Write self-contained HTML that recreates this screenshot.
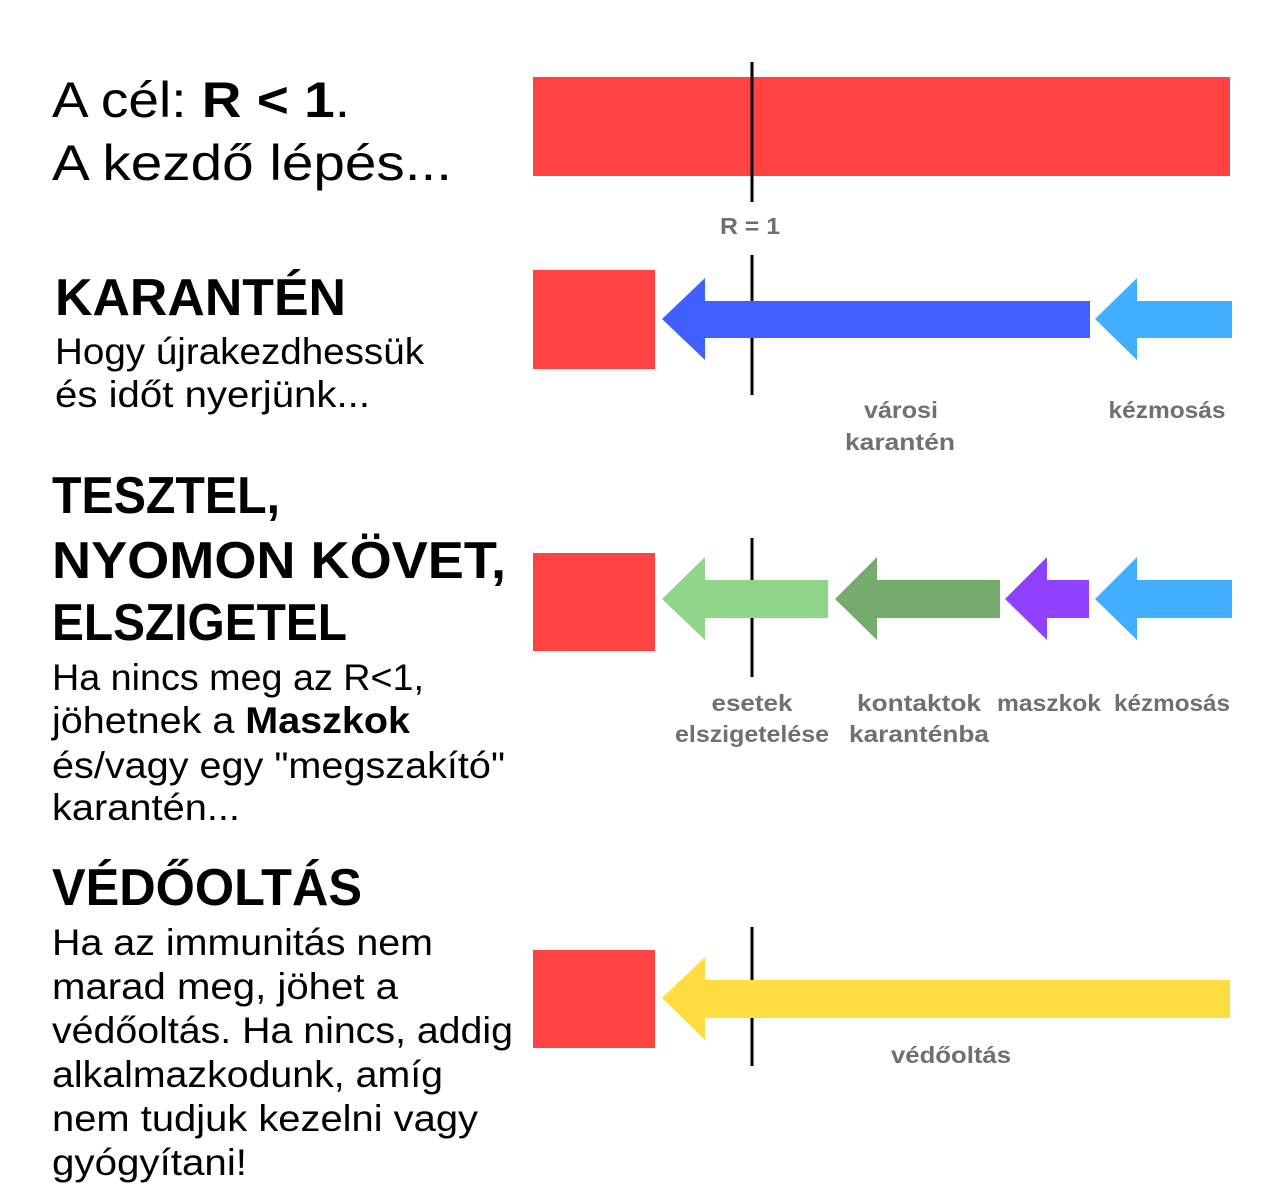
<!DOCTYPE html>
<html><head><meta charset="utf-8"><style>html,body{margin:0;padding:0;background:#fff}svg{display:block}</style></head>
<body>
<svg width="1280" height="1200" viewBox="0 0 1280 1200" xmlns="http://www.w3.org/2000/svg" font-family="Liberation Sans, sans-serif">
<rect width="1280" height="1200" fill="#fff"/>
<!-- Row 1 -->
<rect x="533" y="77" width="697" height="99" fill="#FF4242"/>
<line x1="752" y1="62" x2="752" y2="202" stroke="#000" stroke-width="3"/>
<text x="750" y="234" text-anchor="middle" font-size="23" font-weight="bold" fill="#707070" textLength="60" lengthAdjust="spacingAndGlyphs">R = 1</text>
<!-- Row 2 -->
<rect x="533" y="270" width="122" height="99" fill="#FF4242"/>
<line x1="752" y1="255" x2="752" y2="395" stroke="#000" stroke-width="3"/>
<polygon points="662,319 705,278 705,301 1090,301 1090,338 705,338 705,360" fill="#4060FF"/>
<polygon points="1095,319 1137,278 1137,301 1232,301 1232,338 1137,338 1137,360" fill="#40AFFF"/>
<g font-size="23" font-weight="bold" fill="#707070" text-anchor="middle">
<text x="901" y="418" textLength="74" lengthAdjust="spacingAndGlyphs">városi</text><text x="900" y="450" textLength="110" lengthAdjust="spacingAndGlyphs">karantén</text>
<text x="1167" y="418" textLength="117" lengthAdjust="spacingAndGlyphs">kézmosás</text>
</g>
<!-- Row 3 -->
<rect x="533" y="553" width="122" height="98" fill="#FF4242"/>
<line x1="752" y1="538" x2="752" y2="677" stroke="#000" stroke-width="3"/>
<polygon points="662,599 705,557 705,580 828,580 828,618 705,618 705,640" fill="#90D68A"/>
<polygon points="835,599 877,557 877,580 1000,580 1000,618 877,618 877,640" fill="#76AB6E"/>
<polygon points="1005,599 1047,557 1047,580 1089,580 1089,618 1047,618 1047,640" fill="#9040FF"/>
<polygon points="1095,599 1137,557 1137,580 1232,580 1232,618 1137,618 1137,640" fill="#40AFFF"/>
<g font-size="23" font-weight="bold" fill="#707070" text-anchor="middle">
<text x="752" y="711" textLength="81" lengthAdjust="spacingAndGlyphs">esetek</text><text x="752" y="742" textLength="154" lengthAdjust="spacingAndGlyphs">elszigetelése</text>
<text x="919" y="711" textLength="124" lengthAdjust="spacingAndGlyphs">kontaktok</text><text x="919" y="742" textLength="140" lengthAdjust="spacingAndGlyphs">karanténba</text>
<text x="1049" y="711" textLength="104" lengthAdjust="spacingAndGlyphs">maszkok</text>
<text x="1172" y="711" textLength="116" lengthAdjust="spacingAndGlyphs">kézmosás</text>
</g>
<!-- Row 4 -->
<rect x="533" y="950" width="122" height="98" fill="#FF4242"/>
<line x1="752" y1="927" x2="752" y2="1066" stroke="#000" stroke-width="3"/>
<polygon points="662,998 705,957 705,980 1230,980 1230,1018 705,1018 705,1040" fill="#FFDD40"/>
<text x="951" y="1063" text-anchor="middle" font-size="23" font-weight="bold" fill="#707070" textLength="120" lengthAdjust="spacingAndGlyphs">védőoltás</text>
<!-- Left text -->
<g fill="#000">
<text x="52" y="117" font-size="50" textLength="298" lengthAdjust="spacingAndGlyphs">A cél: <tspan font-weight="bold">R &lt; 1</tspan>.</text>
<text x="52" y="180" font-size="50" textLength="400" lengthAdjust="spacingAndGlyphs">A kezdő lépés...</text>
<text x="55" y="315" font-size="52" font-weight="bold" textLength="291" lengthAdjust="spacingAndGlyphs">KARANTÉN</text>
<text x="55" y="364" font-size="37" textLength="369" lengthAdjust="spacingAndGlyphs">Hogy újrakezdhessük</text>
<text x="55" y="407" font-size="37" textLength="315" lengthAdjust="spacingAndGlyphs">és időt nyerjünk...</text>
<text x="52" y="513" font-size="52" font-weight="bold" textLength="228" lengthAdjust="spacingAndGlyphs">TESZTEL,</text>
<text x="52" y="578" font-size="52" font-weight="bold" textLength="454" lengthAdjust="spacingAndGlyphs">NYOMON KÖVET,</text>
<text x="52" y="640" font-size="52" font-weight="bold" textLength="295" lengthAdjust="spacingAndGlyphs">ELSZIGETEL</text>
<text x="52" y="690" font-size="37" textLength="372" lengthAdjust="spacingAndGlyphs">Ha nincs meg az R&lt;1,</text>
<text x="52" y="733" font-size="37" textLength="358" lengthAdjust="spacingAndGlyphs">jöhetnek a <tspan font-weight="bold">Maszkok</tspan></text>
<text x="52" y="778" font-size="37" textLength="453" lengthAdjust="spacingAndGlyphs">és/vagy egy "megszakító"</text>
<text x="52" y="820" font-size="37" textLength="188" lengthAdjust="spacingAndGlyphs">karantén...</text>
<text x="52" y="905" font-size="52" font-weight="bold" textLength="310" lengthAdjust="spacingAndGlyphs">VÉDŐOLTÁS</text>
<text x="52" y="955" font-size="37" textLength="381" lengthAdjust="spacingAndGlyphs">Ha az immunitás nem</text>
<text x="52" y="999" font-size="37" textLength="346" lengthAdjust="spacingAndGlyphs">marad meg, jöhet a</text>
<text x="52" y="1043" font-size="37" textLength="461" lengthAdjust="spacingAndGlyphs">védőoltás. Ha nincs, addig</text>
<text x="52" y="1087" font-size="37" textLength="391" lengthAdjust="spacingAndGlyphs">alkalmazkodunk, amíg</text>
<text x="52" y="1131" font-size="37" textLength="426" lengthAdjust="spacingAndGlyphs">nem tudjuk kezelni vagy</text>
<text x="52" y="1175" font-size="37" textLength="195" lengthAdjust="spacingAndGlyphs">gyógyítani!</text>
</g>
</svg>
</body></html>
